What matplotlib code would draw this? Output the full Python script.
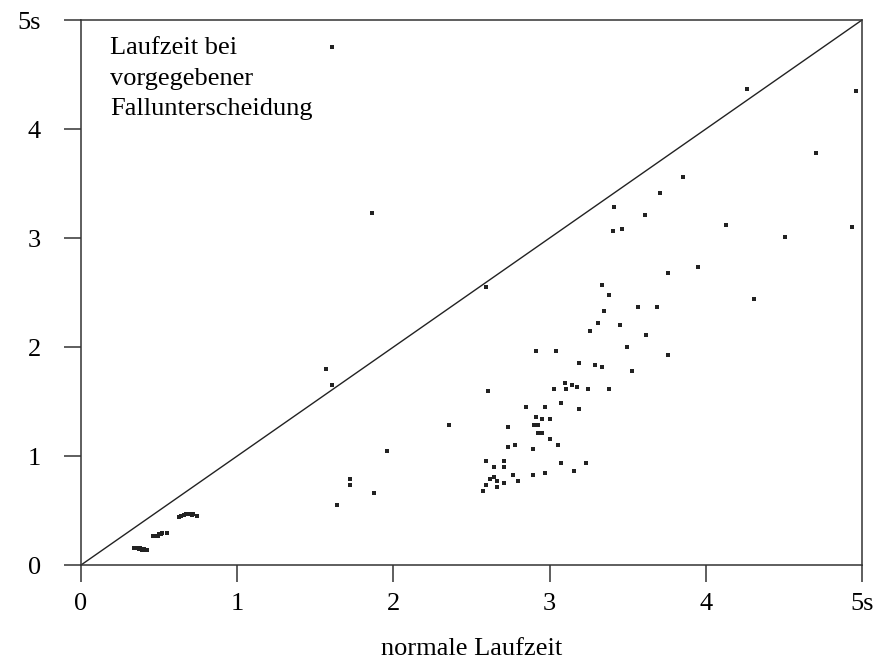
import numpy as np
import matplotlib.pyplot as plt

plt.rcParams['font.family'] = ['Liberation Serif', 'DejaVu Serif']

# normale Laufzeit (x) vs. Laufzeit bei vorgegebener Fallunterscheidung (y), seconds
x_norm = [0.34, 0.36, 0.37, 0.38, 0.39, 0.40, 0.41, 0.42,
          0.46, 0.48, 0.49, 0.50, 0.51, 0.52, 0.55,
          0.63, 0.64, 0.66, 0.67, 0.68, 0.70, 0.71, 0.72, 0.74,
          1.568, 1.607, 1.607, 1.639, 1.724, 1.724, 1.865, 1.873, 1.958,
          2.355, 2.572, 2.594, 2.594, 2.594, 2.604, 2.617, 2.645, 2.647,
          2.662, 2.662, 2.707, 2.707, 2.707, 2.732, 2.732, 2.764, 2.777,
          2.800, 2.850, 2.892, 2.892, 2.903, 2.911, 2.911, 2.924, 2.924,
          2.952, 2.952, 2.969, 2.969, 3.003, 3.003, 3.026, 3.039, 3.056,
          3.071, 3.071, 3.097, 3.105, 3.141, 3.159, 3.173, 3.186, 3.186,
          3.231, 3.244, 3.259, 3.288, 3.310, 3.333, 3.333, 3.346, 3.378,
          3.378, 3.404, 3.412, 3.448, 3.463, 3.493, 3.525, 3.566, 3.608,
          3.617, 3.685, 3.710, 3.755, 3.755, 3.857, 3.947, 4.132, 4.267,
          4.311, 4.504, 4.708, 4.938, 4.960]
y_fall = [0.16, 0.16, 0.15, 0.16, 0.14, 0.15, 0.14, 0.14,
          0.27, 0.27, 0.27, 0.28, 0.28, 0.29, 0.29,
          0.44, 0.45, 0.46, 0.47, 0.47, 0.47, 0.46, 0.47, 0.45,
          1.795, 1.649, 4.750, 0.548, 0.786, 0.731, 3.227, 0.658, 1.043,
          1.282, 0.676, 0.951, 0.731, 2.548, 1.594, 0.786, 0.896, 0.804,
          0.768, 0.713, 0.951, 0.896, 0.750, 1.263, 1.080, 0.823, 1.098,
          0.768, 1.447, 1.061, 0.823, 1.282, 1.355, 1.961, 1.282, 1.208,
          1.337, 1.208, 1.447, 0.841, 1.337, 1.153, 1.612, 1.961, 1.098,
          1.483, 0.933, 1.667, 1.612, 1.649, 0.860, 1.630, 1.428, 1.850,
          0.933, 1.612, 2.144, 1.832, 2.217, 2.566, 1.814, 2.327, 2.474,
          1.612, 3.061, 3.282, 2.199, 3.080, 1.997, 1.777, 2.364, 3.208,
          2.107, 2.364, 3.410, 2.676, 1.924, 3.557, 2.731, 3.117, 4.364,
          2.438, 3.006, 3.777, 3.098, 4.349]

ticks = [0, 1, 2, 3, 4, 5]
tick_labels = ['0', '1', '2', '3', '4', '5s']

fig = plt.figure(figsize=(8.76, 6.63), dpi=100)
ax = fig.add_axes([0.0925, 0.1478, 0.8915, 0.822])

ax.plot([0, 5], [0, 5], color='#222222', lw=1.0)
ax.plot(x_norm, y_fall, ls='none', marker='s', ms=2.2, color='#222222', mew=0)

ax.set_xlim(0, 5)
ax.set_ylim(0, 5)
ax.set_xticks(ticks)
ax.set_xticklabels(tick_labels)
ax.set_yticks(ticks)
ax.set_yticklabels(tick_labels)
ax.tick_params(direction='out', length=12, width=1.1, color='#333333',
               labelsize=19)
ax.tick_params(axis='x', pad=8)
ax.tick_params(axis='y', pad=17)
for s in ax.spines.values():
    s.set_linewidth(1.1)
    s.set_color('#333333')

ax.set_xlabel('normale Laufzeit', fontsize=19, labelpad=17)
ax.text(0.037, 0.968, 'Laufzeit bei\nvorgegebener\nFallunterscheidung',
        transform=ax.transAxes, ha='left', va='top', fontsize=19,
        linespacing=1.5)

fig.savefig('out.png', dpi=100)
